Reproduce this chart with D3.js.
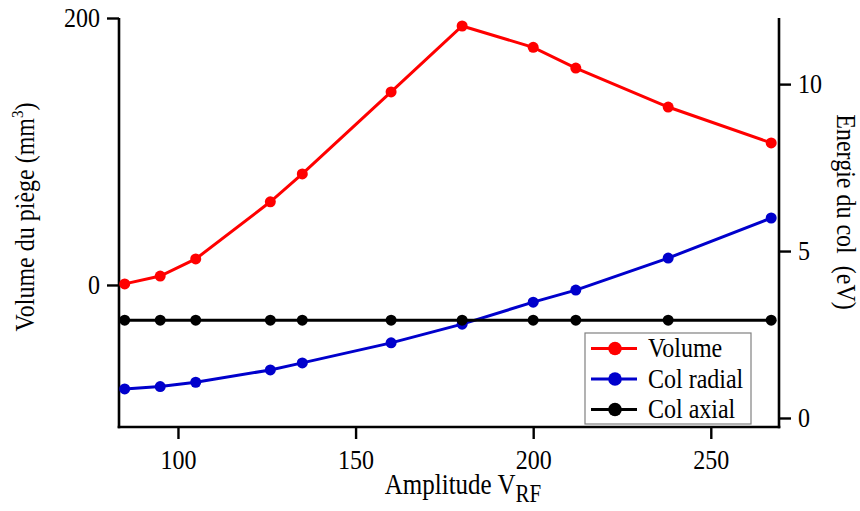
<!DOCTYPE html>
<html><head><meta charset="utf-8">
<script src="https://cdn.jsdelivr.net/npm/d3@7"></script>
<style>body{margin:0;background:#fff}svg{display:block}text{font-family:"Liberation Serif","Times New Roman",serif;fill:#000}</style>
</head><body><svg id="c" width="860" height="511"></svg>
<script>
const amplitude = [85, 95, 105, 126, 135, 160, 180, 200, 212, 238, 267];
const volume = [0.8, 6.7, 19.5, 62.3, 83.2, 144.6, 194, 178, 162.5, 133.3, 106.4];
const colRadial = [0.87, 0.94, 1.07, 1.44, 1.65, 2.25, 2.81, 3.47, 3.83, 4.79, 5.99];
const colAxial = [2.93, 2.93, 2.93, 2.93, 2.93, 2.93, 2.93, 2.93, 2.93, 2.93, 2.93];
const xTicks = [100, 150, 200, 250];
const yLeftTicks = [0, 200];
const yRightTicks = [0, 5, 10];
const seriesNames = ["Volume", "Col radial", "Col axial"];
const seriesColors = ["#ff0000", "#0000cc", "#000000"];

const SY = 1.17; // vertical glyph stretch seen in the reference
const FS = "24px";
const svg = d3.select("#c");
const L = 119, R = 779, T = 18, B = 427;
const x = d3.scaleLinear().domain([83.4, 269.2]).range([L, R]);
const yL = d3.scaleLinear().domain([-106.4, 200]).range([B, T]);
const yR = d3.scaleLinear().domain([-0.27, 11.98]).range([B, T]);

function styleAxis(g){
  g.selectAll("path").attr("stroke","#000").attr("stroke-width",2.6);
  g.selectAll("line").attr("stroke","#000").attr("stroke-width",2.4);
  g.selectAll("text").style("font-family",'"Liberation Serif",serif').style("font-size",FS).attr("fill","#000");
}
const gx = svg.append("g").attr("transform",`translate(0,${B})`)
  .call(d3.axisBottom(x).tickValues(xTicks).tickSize(12).tickSizeOuter(0));
styleAxis(gx);
gx.selectAll(".tick text").attr("dy",null).attr("y",42/SY).attr("transform",`scale(1,${SY})`);
const gl = svg.append("g").attr("transform",`translate(${L},0)`)
  .call(d3.axisLeft(yL).tickValues(yLeftTicks).tickSize(12).tickSizeOuter(0));
styleAxis(gl);
gl.selectAll(".tick text").attr("x",-19).attr("dy",null).attr("y",8.3/SY).attr("transform",`scale(1,${SY})`);
const gr = svg.append("g").attr("transform",`translate(${R},0)`)
  .call(d3.axisRight(yR).tickValues(yRightTicks).tickSize(12).tickSizeOuter(0));
styleAxis(gr);
gr.selectAll(".tick text").attr("x",19).attr("dy",null).attr("y",8.3/SY).attr("transform",`scale(1,${SY})`);
gl.select("path").attr("d",`M0,${T}V${B+1.3}`);
gr.select("path").attr("d",`M0,${T}V${B+1.3}`);
gx.select("path").attr("d",`M${L-1.3},0H${R+1.3}`);

const series = [
  {vals: volume, y: yL},
  {vals: colRadial, y: yR},
  {vals: colAxial, y: yR}
];
series.forEach((s,i)=>{
  const pts = amplitude.map((a,j)=>[a,s.vals[j]]);
  svg.append("path").datum(pts)
    .attr("fill","none").attr("stroke",seriesColors[i]).attr("stroke-width",3)
    .attr("d", d3.line().x(d=>x(d[0])).y(d=>s.y(d[1])));
  svg.append("g").selectAll("circle").data(pts).join("circle")
    .attr("cx",d=>x(d[0])).attr("cy",d=>s.y(d[1])).attr("r",5.5).attr("fill",seriesColors[i]);
});

// axis titles
const xt = svg.append("text").attr("transform",`translate(463,494) scale(1,${SY})`).attr("text-anchor","middle").style("font-size","25px");
xt.append("tspan").text("Amplitude V");
xt.append("tspan").attr("dy",8/SY).style("font-size","21px").text("RF");
const lt = svg.append("text").attr("transform",`translate(34,217) rotate(-90) scale(1,${SY})`).attr("text-anchor","middle").style("font-size",FS);
lt.append("tspan").text("Volume du piège (mm");
lt.append("tspan").attr("dy",-9).style("font-size","15px").text("3");
lt.append("tspan").attr("dy",9).text(")");
svg.append("text").attr("transform",`translate(837,212) rotate(90) scale(1,1.1)`).attr("text-anchor","middle").style("font-size",FS)
  .attr("xml:space","preserve").style("white-space","pre").text("Energie du col  (eV)");

// legend
const lg = svg.append("g").attr("transform","translate(585,333)");
lg.append("rect").attr("width",166).attr("height",91).attr("fill","#fff").attr("stroke","#808080").attr("stroke-width",1.2);
seriesNames.forEach((n,i)=>{
  const yy = 15.5 + i*30.5;
  lg.append("line").attr("x1",6).attr("x2",52).attr("y1",yy).attr("y2",yy).attr("stroke",seriesColors[i]).attr("stroke-width",3);
  lg.append("circle").attr("cx",30).attr("cy",yy).attr("r",6.8).attr("fill",seriesColors[i]);
  lg.append("text").attr("transform",`translate(63,${yy+8.5}) scale(1,${SY})`).style("font-size",FS).text(n);
});
</script></body></html>
